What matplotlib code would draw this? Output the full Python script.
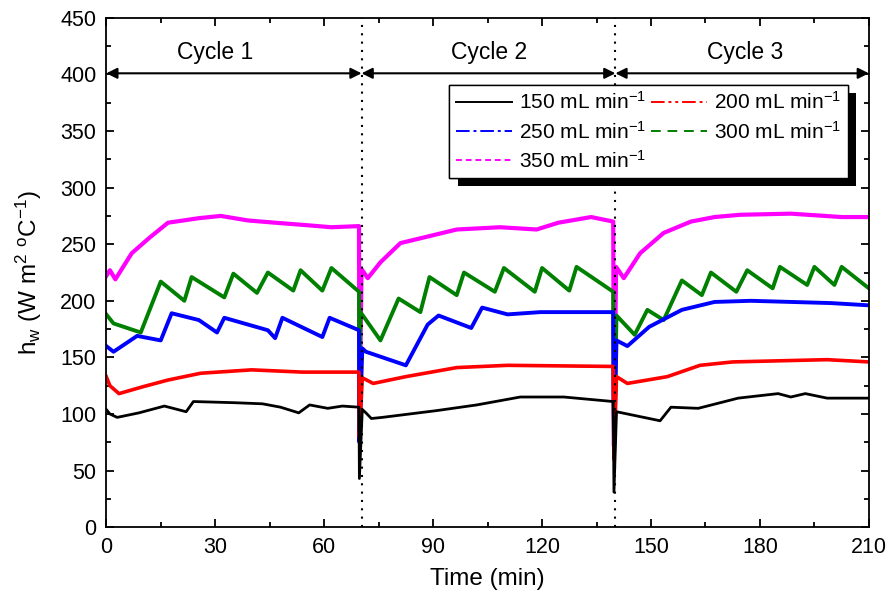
import matplotlib
matplotlib.use("Agg")
import matplotlib.pyplot as plt
from matplotlib.lines import Line2D
from matplotlib.ticker import MultipleLocator
import matplotlib.patheffects as pe

plt.rcParams['font.family'] = ['Liberation Sans', 'DejaVu Sans']
plt.rcParams['mathtext.default'] = 'regular'

# time (min) and wall heat transfer coefficient for each flow rate
t_150 = [0, 1, 3, 9, 16, 22, 24, 35, 43, 48, 53, 56, 61, 65, 69.6, 69.7, 70.5, 71.5, 73, 76,
         91, 102, 114, 126, 139.6, 139.8, 140.5, 142, 152.5, 155.5, 163, 174, 185, 188.5, 192.5, 198.5, 210]
h_150 = [104, 100, 97, 101, 107, 102, 111, 110, 109, 106, 101, 108, 105, 107, 106, 43, 104, 101, 96, 97,
         103, 108, 115, 115, 111, 31, 102, 101, 94, 106, 105, 114, 118, 115, 118, 114, 114]

t_200 = [0, 1, 3.5, 10, 17, 26, 40, 54, 69.6, 69.7, 70.5, 73.5, 82.5, 96.5, 110.5, 139.6, 139.8,
         140.5, 143.5, 154.5, 163.5, 172.5, 198.5, 210]
h_200 = [133, 125, 118, 124, 130, 136, 139, 137, 137, 80, 132, 127, 133, 141, 143, 142, 60,
         133, 127, 133, 143, 146, 148, 146]

t_250 = [0, 2, 8.5, 15, 18, 25.5, 30.5, 32.5, 44.5, 46.5, 48.5, 59.5, 61.5, 69.6, 69.7, 70.5, 71.5,
         82.5, 88.5, 91.5, 100.5, 103.5, 110.5, 119.5, 139.6, 139.8, 140.5, 143.5, 149.5, 158.5,
         167.5, 177.5, 199.5, 210]
h_250 = [160, 155, 169, 165, 189, 183, 172, 185, 174, 167, 185, 168, 185, 174, 75, 158, 155,
         143, 179, 187, 176, 194, 188, 190, 190, 65, 165, 160, 177, 192,
         199, 200, 198, 196]

t_300 = [0, 2, 9.5, 15, 21.5, 23.5, 32.5, 35, 41.5, 44.5, 51.5, 53.5, 59.5, 62, 69.6, 69.7, 70,
         75.5, 80.5, 86.5, 89, 96.5, 98.5, 107, 109.5, 118, 120, 127.5, 129.5, 139.6, 139.8, 140.5,
         145.5, 149, 153.5, 158.5, 164, 166.5, 173.5, 176.5, 183.5, 185.5, 193, 195, 200.5, 202.5, 210]
h_300 = [188, 180, 172, 217, 200, 221, 203, 224, 207, 225, 209, 227, 209, 229, 208, 85, 190,
         165, 202, 190, 221, 205, 225, 208, 229, 208, 229, 209, 230, 208, 75, 187,
         170, 192, 183, 218, 205, 225, 208, 227, 211, 230, 214, 230, 214, 230, 211]

t_350 = [0, 1, 2.5, 7, 12, 17, 25.5, 31.5, 39, 46.5, 54.5, 62, 69.6, 69.7, 70.3, 72, 75.5, 81,
         87.5, 96.5, 108.5, 118.5, 124.5, 133.5, 139.6, 139.8, 140.4, 142.5, 147, 153.5, 161,
         167.5, 174.5, 188.5, 202.5, 210]
h_350 = [222, 227, 219, 242, 256, 269, 273, 275, 271, 269, 267, 265, 266, 92, 228, 220, 234, 251,
         256, 263, 265, 263, 269, 274, 270, 72, 230, 220, 242, 260, 270,
         274, 276, 277, 274, 274]

cycle_bounds = [0, 70.3, 140.2, 210]
cycle_labels = ['Cycle 1', 'Cycle 2', 'Cycle 3']
cycle_label_x = [30, 105.5, 176]

series = [
    (t_150, h_150, 'k', '-', 2.0, '150 mL min$^{-1}$'),
    (t_200, h_200, 'red', (0, (7, 2, 1.5, 2, 1.5, 2)), 2.6, '200 mL min$^{-1}$'),
    (t_250, h_250, 'blue', (0, (7, 2, 1.5, 2)), 2.8, '250 mL min$^{-1}$'),
    (t_300, h_300, 'green', (0, (5, 3.5)), 2.8, '300 mL min$^{-1}$'),
    (t_350, h_350, 'magenta', (0, (3, 2)), 3.0, '350 mL min$^{-1}$'),
]

fig = plt.figure(figsize=(8.93, 5.95), dpi=100)
ax = fig.add_axes([0.119, 0.114, 0.854, 0.856])

for t, h, c, ls, lw, lab in reversed(series):
    ax.plot(t, h, color=c, lw=lw, solid_joinstyle='round')

# cycle separators and span arrows
for xb in cycle_bounds[1:-1]:
    ax.axvline(xb, color='k', ls=(0, (1, 3)), lw=1.5)
for i in range(3):
    ax.annotate('', xy=(cycle_bounds[i + 1], 401), xytext=(cycle_bounds[i], 401),
                arrowprops=dict(arrowstyle='<|-|>', color='k', lw=1.5,
                                mutation_scale=16, shrinkA=0, shrinkB=0))
    ax.text(cycle_label_x[i], 419, cycle_labels[i], ha='center', va='center', fontsize=16.5)

ax.set_xlim(0, 210)
ax.set_ylim(0, 450)
ax.xaxis.set_major_locator(MultipleLocator(30))
ax.xaxis.set_minor_locator(MultipleLocator(15))
ax.yaxis.set_major_locator(MultipleLocator(50))
ax.yaxis.set_minor_locator(MultipleLocator(25))
ax.tick_params(which='both', direction='in', top=True, right=True, width=1.3, labelsize=15.5)
ax.tick_params(which='major', length=6, pad=7)
ax.tick_params(which='minor', length=3.5)
for s in ax.spines.values():
    s.set_linewidth(1.3)

ax.set_xlabel('Time (min)', fontsize=17.5, labelpad=7)
ax.set_ylabel('h$_w$ (W m$^2$ $^o$C$^{-1}$)', fontsize=17.5, labelpad=12)

handles = [Line2D([], [], color=c, ls=ls, lw=1.4) for _, _, c, ls, _, _ in series]
labels = [s[5] for s in series]
order = [0, 2, 4, 1, 3]
leg = ax.legend([handles[i] for i in order], [labels[i] for i in order], ncol=2,
                loc='upper right', bbox_to_anchor=(0.972, 0.868), fontsize=15,
                frameon=True, fancybox=False, framealpha=1, edgecolor='k',
                handlelength=2.7, handletextpad=0.35, columnspacing=0.2,
                labelspacing=0.35, borderpad=0.3, borderaxespad=0)
leg.get_frame().set_linewidth(1.0)
leg.get_frame().set_path_effects([
    pe.withSimplePatchShadow(offset=(6, -6), shadow_rgbFace='k', alpha=1), pe.Normal()])

fig.savefig('out.png', dpi=100)
